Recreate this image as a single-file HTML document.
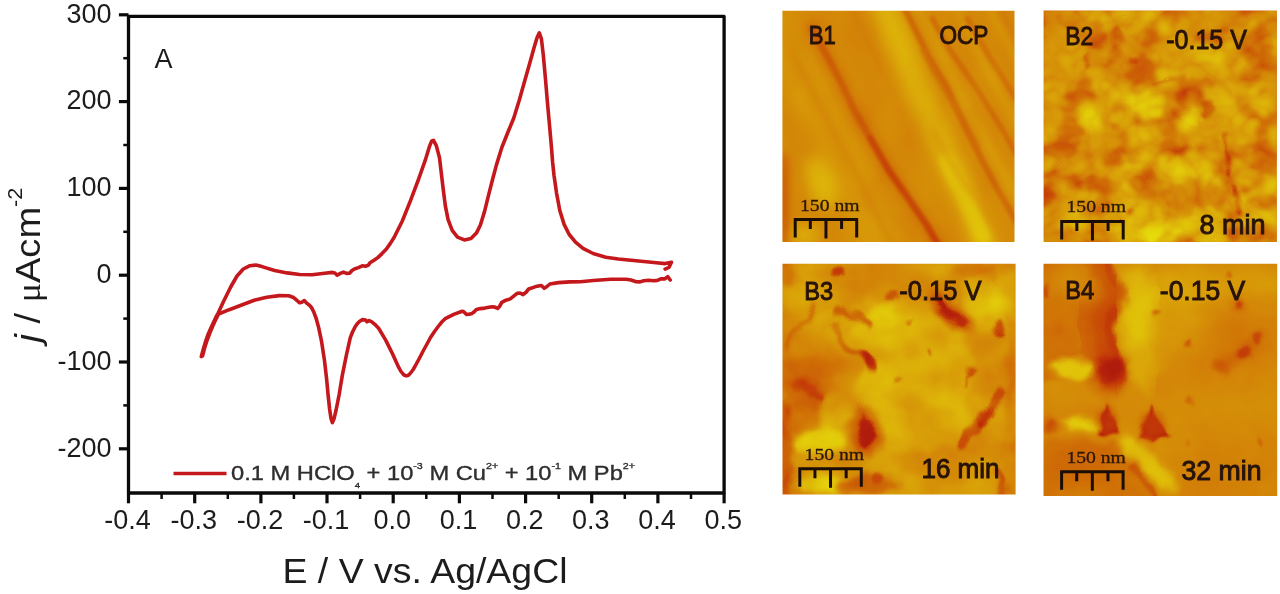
<!DOCTYPE html>
<html><head><meta charset="utf-8"><title>Figure</title>
<style>
html,body{margin:0;padding:0;background:#fff;}
body{width:1280px;height:594px;overflow:hidden;font-family:"Liberation Sans",sans-serif;}
svg{display:block;position:absolute;left:0;top:0;}
text{font-family:"Liberation Sans",sans-serif;fill:#1c1c1c;}
.serif{font-family:"Liberation Serif",serif;}
</style></head><body>
<svg width="1280" height="594" viewBox="0 0 1280 594">
<rect width="1280" height="594" fill="#ffffff"/>
<defs><filter id="soft" filterUnits="userSpaceOnUse" x="0" y="0" width="1280" height="594" color-interpolation-filters="sRGB"><feGaussianBlur stdDeviation="0.55"/></filter></defs>
<g filter="url(#soft)">
<rect width="1280" height="594" fill="#ffffff"/>

<g id="chart">
<rect x="128.5" y="16.3" width="595.6" height="476.7" fill="none" stroke="#0a0a0a" stroke-width="3.3" stroke-linejoin="round"/>
<line x1="118.9" y1="448.8" x2="128.5" y2="448.8" stroke="#0a0a0a" stroke-width="3.2"/>
<text x="111.6" y="456.5" font-size="27" text-anchor="end">-200</text>
<line x1="118.9" y1="362.0" x2="128.5" y2="362.0" stroke="#0a0a0a" stroke-width="3.2"/>
<text x="111.6" y="369.7" font-size="27" text-anchor="end">-100</text>
<line x1="118.9" y1="275.2" x2="128.5" y2="275.2" stroke="#0a0a0a" stroke-width="3.2"/>
<text x="111.6" y="282.9" font-size="27" text-anchor="end">0</text>
<line x1="118.9" y1="188.4" x2="128.5" y2="188.4" stroke="#0a0a0a" stroke-width="3.2"/>
<text x="111.6" y="196.1" font-size="27" text-anchor="end">100</text>
<line x1="118.9" y1="101.6" x2="128.5" y2="101.6" stroke="#0a0a0a" stroke-width="3.2"/>
<text x="111.6" y="109.3" font-size="27" text-anchor="end">200</text>
<line x1="118.9" y1="14.8" x2="128.5" y2="14.8" stroke="#0a0a0a" stroke-width="3.2"/>
<text x="111.6" y="22.5" font-size="27" text-anchor="end">300</text>
<line x1="123.3" y1="405.4" x2="128.5" y2="405.4" stroke="#0a0a0a" stroke-width="2.5"/>
<line x1="123.3" y1="318.6" x2="128.5" y2="318.6" stroke="#0a0a0a" stroke-width="2.5"/>
<line x1="123.3" y1="231.8" x2="128.5" y2="231.8" stroke="#0a0a0a" stroke-width="2.5"/>
<line x1="123.3" y1="145.0" x2="128.5" y2="145.0" stroke="#0a0a0a" stroke-width="2.5"/>
<line x1="123.3" y1="58.2" x2="128.5" y2="58.2" stroke="#0a0a0a" stroke-width="2.5"/>
<line x1="128.5" y1="493.0" x2="128.5" y2="503.3" stroke="#0a0a0a" stroke-width="3.2"/>
<text x="127.6" y="529.2" font-size="27" text-anchor="middle">-0.4</text>
<line x1="194.7" y1="493.0" x2="194.7" y2="503.3" stroke="#0a0a0a" stroke-width="3.2"/>
<text x="193.8" y="529.2" font-size="27" text-anchor="middle">-0.3</text>
<line x1="260.9" y1="493.0" x2="260.9" y2="503.3" stroke="#0a0a0a" stroke-width="3.2"/>
<text x="260.0" y="529.2" font-size="27" text-anchor="middle">-0.2</text>
<line x1="327.0" y1="493.0" x2="327.0" y2="503.3" stroke="#0a0a0a" stroke-width="3.2"/>
<text x="326.1" y="529.2" font-size="27" text-anchor="middle">-0.1</text>
<line x1="393.2" y1="493.0" x2="393.2" y2="503.3" stroke="#0a0a0a" stroke-width="3.2"/>
<text x="392.3" y="529.2" font-size="27" text-anchor="middle">0.0</text>
<line x1="459.4" y1="493.0" x2="459.4" y2="503.3" stroke="#0a0a0a" stroke-width="3.2"/>
<text x="458.5" y="529.2" font-size="27" text-anchor="middle">0.1</text>
<line x1="525.6" y1="493.0" x2="525.6" y2="503.3" stroke="#0a0a0a" stroke-width="3.2"/>
<text x="524.7" y="529.2" font-size="27" text-anchor="middle">0.2</text>
<line x1="591.7" y1="493.0" x2="591.7" y2="503.3" stroke="#0a0a0a" stroke-width="3.2"/>
<text x="590.8" y="529.2" font-size="27" text-anchor="middle">0.3</text>
<line x1="657.9" y1="493.0" x2="657.9" y2="503.3" stroke="#0a0a0a" stroke-width="3.2"/>
<text x="657.0" y="529.2" font-size="27" text-anchor="middle">0.4</text>
<line x1="724.1" y1="493.0" x2="724.1" y2="503.3" stroke="#0a0a0a" stroke-width="3.2"/>
<text x="723.2" y="529.2" font-size="27" text-anchor="middle">0.5</text>
<line x1="161.6" y1="493.0" x2="161.6" y2="499.0" stroke="#0a0a0a" stroke-width="2.5"/>
<line x1="227.8" y1="493.0" x2="227.8" y2="499.0" stroke="#0a0a0a" stroke-width="2.5"/>
<line x1="293.9" y1="493.0" x2="293.9" y2="499.0" stroke="#0a0a0a" stroke-width="2.5"/>
<line x1="360.1" y1="493.0" x2="360.1" y2="499.0" stroke="#0a0a0a" stroke-width="2.5"/>
<line x1="426.3" y1="493.0" x2="426.3" y2="499.0" stroke="#0a0a0a" stroke-width="2.5"/>
<line x1="492.5" y1="493.0" x2="492.5" y2="499.0" stroke="#0a0a0a" stroke-width="2.5"/>
<line x1="558.7" y1="493.0" x2="558.7" y2="499.0" stroke="#0a0a0a" stroke-width="2.5"/>
<line x1="624.8" y1="493.0" x2="624.8" y2="499.0" stroke="#0a0a0a" stroke-width="2.5"/>
<line x1="691.0" y1="493.0" x2="691.0" y2="499.0" stroke="#0a0a0a" stroke-width="2.5"/>
<text x="282.5" y="582.5" font-size="34.6" textLength="285" lengthAdjust="spacingAndGlyphs">E / V vs. Ag/AgCl</text>
<text transform="translate(40.3,342.5) rotate(-90)" font-size="35" textLength="155" lengthAdjust="spacingAndGlyphs"><tspan font-style="italic">j</tspan> / <tspan class="serif" font-size="33">μ</tspan>Acm<tspan font-size="20" dy="-18">-2</tspan></text>
<text x="154.5" y="68.3" font-size="27">A</text>
<path d="M201.3 356.6 L203.2 349.5 L205.3 342.4 L208.0 334.5 L210.0 330.0 L213.0 323.5 L215.9 317.2 L218.2 313.0 L223.5 301.5 L230.7 287.0 L237.0 276.0 L243.3 269.0 L249.5 265.8 L255.8 265.1 L262.0 266.6 L274.6 270.5 L287.1 272.9 L299.6 274.5 L312.2 274.8 L324.7 273.2 L332.5 272.4 L334.8 273.0 L337.2 275.2 L340.3 273.4 L343.5 272.1 L346.5 273.4 L349.7 273.2 L352.0 270.5 L354.4 269.0 L358.3 267.6 L362.3 265.8 L365.5 266.2 L368.5 265.1 L370.0 262.8 L374.0 260.3 L378.1 257.4 L382.0 253.6 L386.2 249.3 L390.2 243.6 L394.2 237.2 L402.3 221.0 L410.4 200.8 L418.5 179.3 L425.2 160.4 L429.3 146.9 L431.6 141.2 L433.5 140.3 L436.3 145.6 L439.5 157.7 L441.4 173.9 L443.3 190.0 L445.4 206.2 L448.1 219.7 L452.2 230.4 L457.5 237.2 L464.3 239.9 L471.0 238.5 L476.4 233.1 L480.4 225.0 L484.5 211.6 L488.5 195.4 L492.6 179.3 L496.6 164.4 L502.0 147.0 L508.0 132.0 L513.7 118.3 L519.1 100.8 L524.4 82.0 L529.8 63.1 L533.9 48.3 L537.1 37.5 L539.3 32.9 L541.4 38.9 L543.3 55.0 L545.5 79.3 L547.3 100.8 L549.5 125.1 L551.4 146.6 L552.6 162.0 L554.0 175.2 L556.5 192.8 L559.8 210.5 L564.1 224.4 L569.2 234.5 L575.5 242.1 L583.0 248.4 L593.1 253.5 L605.8 257.2 L618.4 259.0 L631.0 260.3 L643.7 261.5 L656.3 262.8 L665.1 263.6 L671.5 262.3 L668.9 267.4 L665.1 269.1" fill="none" stroke="#c4181c" stroke-width="3.6" stroke-linejoin="round" stroke-linecap="round"/>
<path d="M670.2 280.0 L667.7 276.7 L664.5 278.9 L661.3 278.7 L657.5 280.4 L653.8 280.7 L648.5 280.2 L643.7 280.7 L640.0 281.9 L636.1 281.7 L631.0 280.0 L626.0 279.2 L610.8 279.2 L593.1 280.5 L580.5 281.7 L569.7 281.9 L558.4 282.6 L549.9 284.0 L547.0 286.5 L544.2 288.3 L541.4 285.5 L535.7 286.6 L528.7 289.0 L525.8 292.5 L523.0 294.6 L520.0 293.0 L517.4 293.2 L510.3 298.9 L506.0 300.2 L501.8 302.4 L499.5 306.5 L497.6 308.4 L494.5 307.0 L491.9 306.7 L484.8 308.1 L480.5 308.6 L476.4 309.5 L474.0 312.0 L472.1 313.4 L469.2 314.2 L466.5 314.4 L464.2 312.2 L462.2 311.2 L453.7 314.4 L445.2 318.7 L441.5 322.3 L438.2 326.5 L434.5 331.5 L430.5 337.5 L427.0 344.0 L423.4 350.5 L419.8 357.5 L416.3 364.0 L413.2 369.5 L410.4 373.3 L408.4 375.2 L406.4 375.9 L404.6 375.3 L403.0 374.0 L400.7 371.0 L398.6 367.2 L392.7 354.2 L385.7 340.1 L378.6 328.3 L374.8 324.3 L371.5 321.7 L369.0 320.6 L367.0 321.8 L365.6 320.0 L362.5 319.6 L359.7 321.2 L357.2 323.8 L355.0 327.1 L352.5 332.0 L350.3 337.7 L346.6 354.2 L342.3 375.4 L339.2 394.3 L336.0 410.5 L334.0 418.8 L332.4 422.6 L331.0 418.5 L329.6 409.0 L328.0 394.0 L326.7 379.8 L324.4 359.9 L321.5 341.1 L318.5 326.9 L316.2 318.5 L313.9 312.3 L311.8 308.0 L309.4 305.2 L307.0 303.4 L304.3 300.6 L301.8 302.2 L299.6 302.8 L296.5 300.0 L293.0 297.2 L288.7 295.8 L279.3 295.6 L266.7 297.2 L254.2 300.3 L241.7 305.0 L229.2 309.7 L218.6 314.0 L216.2 318.6 L213.0 325.5 L210.0 332.5 L207.0 340.5 L204.6 348.0 L202.6 355.8" fill="none" stroke="#c4181c" stroke-width="3.6" stroke-linejoin="round" stroke-linecap="round"/>
<line x1="173.5" y1="473.5" x2="226.5" y2="473.5" stroke="#c4181c" stroke-width="3.4"/>
<text x="231" y="480.3" font-size="20" style="fill:#2e2e2e;stroke:#2e2e2e;stroke-width:0.35" textLength="404" lengthAdjust="spacingAndGlyphs">0.1 M HClO<tspan font-size="8" dy="8">4</tspan><tspan dy="-8"> + 10</tspan><tspan font-size="9" dy="-11">-3</tspan><tspan dy="11"> M Cu</tspan><tspan font-size="9" dy="-11">2+</tspan><tspan dy="11"> + 10</tspan><tspan font-size="9" dy="-11">-1</tspan><tspan dy="11"> M Pb</tspan><tspan font-size="9" dy="-11">2+</tspan></text>
</g>
<defs>
<filter id="bXS" x="-60%" y="-60%" width="220%" height="220%" color-interpolation-filters="sRGB"><feGaussianBlur stdDeviation="0.8"/></filter>
<filter id="bS" x="-60%" y="-60%" width="220%" height="220%" color-interpolation-filters="sRGB"><feGaussianBlur stdDeviation="1.6"/></filter>
<filter id="bM" x="-60%" y="-60%" width="220%" height="220%" color-interpolation-filters="sRGB"><feGaussianBlur stdDeviation="3.2"/></filter>
<filter id="bL" x="-60%" y="-60%" width="220%" height="220%" color-interpolation-filters="sRGB"><feGaussianBlur stdDeviation="7"/></filter>
<filter id="bXL" x="-60%" y="-60%" width="220%" height="220%" color-interpolation-filters="sRGB"><feGaussianBlur stdDeviation="13"/></filter>
<filter id="cm1" filterUnits="userSpaceOnUse" x="0" y="0" width="233" height="232" color-interpolation-filters="sRGB"><feTurbulence type="fractalNoise" baseFrequency="0.03 0.02" numOctaves="2" seed="4" result="t"/><feColorMatrix in="t" type="matrix" values="1 0 0 0 0  1 0 0 0 0  1 0 0 0 0  0 0 0 0 1" result="tg"/><feComposite in="SourceGraphic" in2="tg" operator="arithmetic" k1="0" k2="1" k3="0.1" k4="-0.0500" result="h"/><feGaussianBlur in="h" stdDeviation="0.7" result="h2"/><feComponentTransfer in="h2"><feFuncR type="table" tableValues="0.690 0.737 0.776 0.796 0.812 0.827 0.839 0.855 0.871 0.886 0.902"/><feFuncG type="table" tableValues="0.110 0.173 0.259 0.353 0.431 0.510 0.573 0.643 0.714 0.784 0.855"/><feFuncB type="table" tableValues="0.047 0.039 0.031 0.024 0.024 0.031 0.031 0.035 0.039 0.039 0.047"/><feFuncA type="linear" slope="0" intercept="1"/></feComponentTransfer></filter>
<filter id="cm2" filterUnits="userSpaceOnUse" x="0" y="0" width="233" height="232" color-interpolation-filters="sRGB"><feTurbulence type="fractalNoise" baseFrequency="0.05" numOctaves="2" seed="5" result="dn"/><feDisplacementMap in="SourceGraphic" in2="dn" scale="10" xChannelSelector="R" yChannelSelector="G" result="ds"/><feMerge result="src2"><feMergeNode in="SourceGraphic"/><feMergeNode in="ds"/></feMerge><feTurbulence type="fractalNoise" baseFrequency="0.026 0.030" numOctaves="3" seed="3" result="t"/><feColorMatrix in="t" type="matrix" values="1 0 0 0 0  1 0 0 0 0  1 0 0 0 0  0 0 0 0 1" result="tg"/><feComponentTransfer in="tg" result="tsig"><feFuncR type="table" tableValues="0 0 0 0.05 0.30 0.80 0.97 1 1 1 1"/><feFuncG type="table" tableValues="0 0 0 0.05 0.30 0.80 0.97 1 1 1 1"/><feFuncB type="table" tableValues="0 0 0 0.05 0.30 0.80 0.97 1 1 1 1"/></feComponentTransfer><feGaussianBlur in="tsig" stdDeviation="1.0" result="tb"/><feComposite in="src2" in2="tb" operator="arithmetic" k1="0" k2="1" k3="0.34" k4="-0.1972" result="h"/><feTurbulence type="turbulence" baseFrequency="0.032 0.036" numOctaves="2" seed="8" result="f"/><feColorMatrix in="f" type="matrix" values="1 0 0 0 0  1 0 0 0 0  1 0 0 0 0  0 0 0 0 1" result="fg"/><feComposite in="h" in2="fg" operator="arithmetic" k1="0" k2="1" k3="0.38" k4="-0.0836" result="hf"/><feGaussianBlur in="hf" stdDeviation="0.7" result="h2"/><feComponentTransfer in="h2"><feFuncR type="table" tableValues="0.690 0.737 0.776 0.796 0.812 0.827 0.839 0.855 0.871 0.886 0.902"/><feFuncG type="table" tableValues="0.110 0.173 0.259 0.353 0.431 0.510 0.573 0.643 0.714 0.784 0.855"/><feFuncB type="table" tableValues="0.047 0.039 0.031 0.024 0.024 0.031 0.031 0.035 0.039 0.039 0.047"/><feFuncA type="linear" slope="0" intercept="1"/></feComponentTransfer></filter>
<filter id="cm3" filterUnits="userSpaceOnUse" x="0" y="0" width="233" height="232" color-interpolation-filters="sRGB"><feTurbulence type="fractalNoise" baseFrequency="0.045" numOctaves="2" seed="7" result="dn"/><feDisplacementMap in="SourceGraphic" in2="dn" scale="14" xChannelSelector="R" yChannelSelector="G" result="ds"/><feMerge result="src2"><feMergeNode in="SourceGraphic"/><feMergeNode in="ds"/></feMerge><feTurbulence type="fractalNoise" baseFrequency="0.016 0.024" numOctaves="2" seed="11" result="t"/><feColorMatrix in="t" type="matrix" values="1 0 0 0 0  1 0 0 0 0  1 0 0 0 0  0 0 0 0 1" result="tg"/><feComponentTransfer in="tg" result="tsig"><feFuncR type="table" tableValues="0 0 0 0.02 0.12 0.5 0.88 0.98 1 1 1"/><feFuncG type="table" tableValues="0 0 0 0.02 0.12 0.5 0.88 0.98 1 1 1"/><feFuncB type="table" tableValues="0 0 0 0.02 0.12 0.5 0.88 0.98 1 1 1"/></feComponentTransfer><feGaussianBlur in="tsig" stdDeviation="1.5" result="tb"/><feComposite in="src2" in2="tb" operator="arithmetic" k1="0" k2="1" k3="0.16" k4="-0.0800" result="h"/><feTurbulence type="fractalNoise" baseFrequency="0.06" numOctaves="2" seed="4" result="f"/><feColorMatrix in="f" type="matrix" values="1 0 0 0 0  1 0 0 0 0  1 0 0 0 0  0 0 0 0 1" result="fg"/><feComposite in="h" in2="fg" operator="arithmetic" k1="0" k2="1" k3="0.1" k4="-0.0500" result="hf"/><feGaussianBlur in="hf" stdDeviation="0.7" result="h2"/><feComponentTransfer in="h2"><feFuncR type="table" tableValues="0.690 0.737 0.776 0.796 0.812 0.827 0.839 0.855 0.871 0.886 0.902"/><feFuncG type="table" tableValues="0.110 0.173 0.259 0.353 0.431 0.510 0.573 0.643 0.714 0.784 0.855"/><feFuncB type="table" tableValues="0.047 0.039 0.031 0.024 0.024 0.031 0.031 0.035 0.039 0.039 0.047"/><feFuncA type="linear" slope="0" intercept="1"/></feComponentTransfer></filter>
<filter id="cm4" filterUnits="userSpaceOnUse" x="0" y="0" width="234" height="232" color-interpolation-filters="sRGB"><feTurbulence type="fractalNoise" baseFrequency="0.045" numOctaves="2" seed="8" result="dn"/><feDisplacementMap in="SourceGraphic" in2="dn" scale="12" xChannelSelector="R" yChannelSelector="G" result="ds"/><feMerge result="src2"><feMergeNode in="SourceGraphic"/><feMergeNode in="ds"/></feMerge><feTurbulence type="fractalNoise" baseFrequency="0.012 0.016" numOctaves="2" seed="5" result="t"/><feColorMatrix in="t" type="matrix" values="1 0 0 0 0  1 0 0 0 0  1 0 0 0 0  0 0 0 0 1" result="tg"/><feComposite in="src2" in2="tg" operator="arithmetic" k1="0" k2="1" k3="0.18" k4="-0.0900" result="h"/><feTurbulence type="fractalNoise" baseFrequency="0.05" numOctaves="2" seed="6" result="f"/><feColorMatrix in="f" type="matrix" values="1 0 0 0 0  1 0 0 0 0  1 0 0 0 0  0 0 0 0 1" result="fg"/><feComposite in="h" in2="fg" operator="arithmetic" k1="0" k2="1" k3="0.06" k4="-0.0300" result="hf"/><feGaussianBlur in="hf" stdDeviation="0.7" result="h2"/><feComponentTransfer in="h2"><feFuncR type="table" tableValues="0.690 0.737 0.776 0.796 0.812 0.827 0.839 0.855 0.871 0.886 0.902"/><feFuncG type="table" tableValues="0.110 0.173 0.259 0.353 0.431 0.510 0.573 0.643 0.714 0.784 0.855"/><feFuncB type="table" tableValues="0.047 0.039 0.031 0.024 0.024 0.031 0.031 0.035 0.039 0.039 0.047"/><feFuncA type="linear" slope="0" intercept="1"/></feComponentTransfer></filter>
<clipPath id="cB1"><rect x="0" y="0" width="232.1" height="231.1"/></clipPath>
<clipPath id="cB2"><rect x="0" y="0" width="233.3" height="231.4"/></clipPath>
<clipPath id="cB3"><rect x="0" y="0" width="233.1" height="230.9"/></clipPath>
<clipPath id="cB4"><rect x="0" y="0" width="233.7" height="232.4"/></clipPath>
</defs>
<g transform="translate(782.4,10.8)" clip-path="url(#cB1)">
<g filter="url(#cm1)"><rect x="-20" y="-20" width="280" height="280" fill="rgb(138,138,138)"/>
<path d="M-5 20 L30 90 L60 150 L100 240" fill="none" stroke="rgb(158,158,158)" stroke-width="44" stroke-linecap="round" stroke-linejoin="round" opacity="0.9" filter="url(#bL)"/>
<path d="M98 -10 L125 50 L150 110 L175 165 L203 240" fill="none" stroke="rgb(199,199,199)" stroke-width="26" stroke-linecap="round" stroke-linejoin="round" opacity="0.9" filter="url(#bL)"/>
<path d="M165 150 L180 180 L200 225" fill="none" stroke="rgb(224,224,224)" stroke-width="16" stroke-linecap="round" stroke-linejoin="round" opacity="0.85" filter="url(#bM)"/>
<path d="M135 -5 L160 45 L185 95 L236 190" fill="none" stroke="rgb(168,168,168)" stroke-width="10" stroke-linecap="round" stroke-linejoin="round" opacity="0.7" filter="url(#bM)"/>
<path d="M175 0 L205 60 L236 115" fill="none" stroke="rgb(168,168,168)" stroke-width="10" stroke-linecap="round" stroke-linejoin="round" opacity="0.7" filter="url(#bM)"/>
<path d="M210 0 L236 50" fill="none" stroke="rgb(163,163,163)" stroke-width="10" stroke-linecap="round" stroke-linejoin="round" opacity="0.7" filter="url(#bM)"/>
<ellipse cx="40" cy="172" rx="15" ry="28" fill="rgb(204,204,204)" opacity="0.85" filter="url(#bL)" transform="rotate(-28 40 172)"/>
<ellipse cx="22" cy="224" rx="16" ry="12" fill="rgb(214,214,214)" opacity="0.75" filter="url(#bL)"/>
<ellipse cx="2" cy="190" rx="5" ry="50" fill="rgb(76,76,76)" opacity="0.8" filter="url(#bM)"/>
<ellipse cx="20" cy="22" rx="30" ry="20" fill="rgb(133,133,133)" opacity="0.6" filter="url(#bL)"/>
<path d="M30 18 L35 28 L46.9 49.1 L60 74.4 L71.7 99.1 L87.9 127.4 L106.1 159.1 L126 187.4 L144.2 214.1 L158 238" fill="none" stroke="rgb(107,107,107)" stroke-width="18" stroke-linecap="round" stroke-linejoin="round" opacity="0.6" filter="url(#bM)"/>
<path d="M30 18 L35 28 L46.9 49.1 L60 74.4 L71.7 99.1 L87.9 127.4 L106.1 159.1 L126 187.4 L144.2 214.1 L158 238" fill="none" stroke="rgb(76,76,76)" stroke-width="7" stroke-linecap="round" stroke-linejoin="round" opacity="0.85" filter="url(#bS)"/>
<path d="M87.9 127.4 L106.1 159.1 L126 187.4 L144.2 214.1 L158 238" fill="none" stroke="rgb(46,46,46)" stroke-width="6" stroke-linecap="round" stroke-linejoin="round" opacity="0.7" filter="url(#bS)"/>
<path d="M8 40 L40 100 L75 165 L112 238" fill="none" stroke="rgb(117,117,117)" stroke-width="8" stroke-linecap="round" stroke-linejoin="round" opacity="0.5" filter="url(#bM)"/>
<path d="M120 -6 L126.4 6 L145.9 45 L165.4 78.2 L183 116 L200 150 L215 178 L238 218" fill="none" stroke="rgb(87,87,87)" stroke-width="6.5" stroke-linecap="round" stroke-linejoin="round" opacity="0.8" filter="url(#bS)"/>
<path d="M140 40 L149.8 58.7 L175.2 101.7 L195 135" fill="none" stroke="rgb(102,102,102)" stroke-width="5" stroke-linecap="round" stroke-linejoin="round" opacity="0.6" filter="url(#bS)"/>
<path d="M150 8 L167.4 39 L194.7 78.2 L218.2 116 L238 150" fill="none" stroke="rgb(92,92,92)" stroke-width="6" stroke-linecap="round" stroke-linejoin="round" opacity="0.75" filter="url(#bS)"/>
<path d="M185 8 L206.4 45 L232.6 86 L240 98" fill="none" stroke="rgb(97,97,97)" stroke-width="6" stroke-linecap="round" stroke-linejoin="round" opacity="0.7" filter="url(#bS)"/>
<path d="M150 120 L175.5 164.2 L198.7 194.5 L222 234" fill="none" stroke="rgb(140,140,140)" stroke-width="5" stroke-linecap="round" stroke-linejoin="round" opacity="0.55" filter="url(#bM)"/>
<path d="M70 0 L95 50 L120 105" fill="none" stroke="rgb(117,117,117)" stroke-width="6" stroke-linecap="round" stroke-linejoin="round" opacity="0.5" filter="url(#bM)"/>
<path d="M215 -5 L240 40" fill="none" stroke="rgb(102,102,102)" stroke-width="7" stroke-linecap="round" stroke-linejoin="round" opacity="0.6" filter="url(#bM)"/></g>
<path d="M12.8 226.8 V208.8 H74.3 V226.8 M43.55 208.8 V227.8 M27.925 208.8 V218.3 M59.175 208.8 V218.3" fill="none" stroke="#1a0d06" stroke-width="3" stroke-linejoin="miter"/>
<text class="serif" x="17.6" y="199.8" font-size="17.6" style="fill:#2a1608;stroke:#2a1608;stroke-width:0.3" textLength="59.5" lengthAdjust="spacingAndGlyphs">150 nm</text>
<text x="26.3" y="33.6" font-size="26.5" style="fill:#27130a;stroke:#27130a;stroke-width:1.0" textLength="27" lengthAdjust="spacingAndGlyphs">B1</text>
<text x="157" y="33.6" font-size="26.5" style="fill:#27130a;stroke:#27130a;stroke-width:1.0" textLength="49" lengthAdjust="spacingAndGlyphs">OCP</text>
</g>
<g transform="translate(1043.6,10.6)" clip-path="url(#cB2)">
<g filter="url(#cm2)"><rect x="-20" y="-20" width="280" height="280" fill="rgb(135,135,135)"/>
<ellipse cx="122" cy="185" rx="62" ry="52" fill="rgb(158,158,158)" opacity="0.9" filter="url(#bXL)"/>
<ellipse cx="200" cy="96" rx="30" ry="24" fill="rgb(158,158,158)" opacity="0.8" filter="url(#bL)"/>
<ellipse cx="80" cy="12" rx="60" ry="12" fill="rgb(148,148,148)" opacity="0.6" filter="url(#bL)"/>
<ellipse cx="6" cy="190" rx="12" ry="48" fill="rgb(97,97,97)" opacity="0.7" filter="url(#bL)"/>
<ellipse cx="208" cy="8" rx="26" ry="10" fill="rgb(76,76,76)" opacity="0.6" filter="url(#bL)"/>
<ellipse cx="8" cy="8" rx="12" ry="10" fill="rgb(71,71,71)" opacity="0.7" filter="url(#bL)"/>
<ellipse cx="130" cy="84" rx="16" ry="10" fill="rgb(92,92,92)" opacity="0.7" filter="url(#bM)"/>
<ellipse cx="75" cy="45" rx="30" ry="28" fill="rgb(102,102,102)" opacity="0.55" filter="url(#bL)"/>
<ellipse cx="25" cy="150" rx="26" ry="30" fill="rgb(107,107,107)" opacity="0.5" filter="url(#bL)"/>
<ellipse cx="103.5" cy="96" rx="18" ry="14" fill="rgb(219,219,219)" opacity="0.8" filter="url(#bM)"/>
<ellipse cx="148" cy="106" rx="10" ry="12" fill="rgb(199,199,199)" opacity="0.8" filter="url(#bM)"/>
<ellipse cx="115.6" cy="223" rx="24" ry="11" fill="rgb(217,217,217)" opacity="0.75" filter="url(#bM)"/>
<ellipse cx="150" cy="170" rx="28" ry="20" fill="rgb(189,189,189)" opacity="0.6" filter="url(#bL)"/>
<ellipse cx="210" cy="200" rx="16" ry="20" fill="rgb(184,184,184)" opacity="0.55" filter="url(#bL)"/>
<ellipse cx="40" cy="110" rx="18" ry="14" fill="rgb(173,173,173)" opacity="0.6" filter="url(#bM)"/>
<ellipse cx="60" cy="210" rx="14" ry="12" fill="rgb(184,184,184)" opacity="0.5" filter="url(#bM)"/>
<ellipse cx="73.2" cy="27.4" rx="6" ry="10" fill="rgb(56,56,56)" opacity="0.85" filter="url(#bS)"/>
<ellipse cx="89.3" cy="50.6" rx="4.5" ry="5" fill="rgb(51,51,51)" opacity="0.85" filter="url(#bS)"/>
<ellipse cx="44.9" cy="51.6" rx="3" ry="8" fill="rgb(64,64,64)" opacity="0.9" filter="url(#bS)"/>
<path d="M109.5 73.9 L125 68 L141.9 65.8" fill="none" stroke="rgb(71,71,71)" stroke-width="3.5" stroke-linecap="round" stroke-linejoin="round" opacity="0.9" filter="url(#bS)"/>
<ellipse cx="164" cy="98" rx="5" ry="9" fill="rgb(51,51,51)" opacity="0.85" filter="url(#bS)" transform="rotate(15 164 98)"/>
<ellipse cx="137.8" cy="136.3" rx="6" ry="8" fill="rgb(64,64,64)" opacity="0.85" filter="url(#bM)"/>
<ellipse cx="105.5" cy="159.6" rx="6" ry="7" fill="rgb(51,51,51)" opacity="0.9" filter="url(#bM)"/>
<ellipse cx="28.7" cy="171.7" rx="12" ry="7" fill="rgb(46,46,46)" opacity="0.85" filter="url(#bM)" transform="rotate(20 28.7 171.7)"/>
<ellipse cx="70" cy="146" rx="12" ry="9" fill="rgb(51,51,51)" opacity="0.9" filter="url(#bM)" transform="rotate(-25 70 146)"/>
<path d="M182 124 L184 145 L187 165" fill="none" stroke="rgb(51,51,51)" stroke-width="4.5" stroke-linecap="round" stroke-linejoin="round" opacity="0.8" filter="url(#bS)"/>
<path d="M190 179 L193 190 L196 203" fill="none" stroke="rgb(46,46,46)" stroke-width="5.5" stroke-linecap="round" stroke-linejoin="round" opacity="0.85" filter="url(#bS)"/>
<ellipse cx="87.3" cy="201" rx="3" ry="3" fill="rgb(38,38,38)" opacity="0.8" filter="url(#bS)"/>
<ellipse cx="18" cy="226" rx="14" ry="8" fill="rgb(82,82,82)" opacity="0.7" filter="url(#bM)"/></g>
<path d="M18.1 228.8 V210.8 H79.6 V228.8 M48.85 210.8 V229.8 M33.225 210.8 V220.3 M64.475 210.8 V220.3" fill="none" stroke="#1a0d06" stroke-width="3" stroke-linejoin="miter"/>
<text class="serif" x="22.900000000000002" y="201.8" font-size="17.6" style="fill:#2a1608;stroke:#2a1608;stroke-width:0.3" textLength="59.5" lengthAdjust="spacingAndGlyphs">150 nm</text>
<text x="21.7" y="34.3" font-size="26.5" style="fill:#27130a;stroke:#27130a;stroke-width:1.0" textLength="28" lengthAdjust="spacingAndGlyphs">B2</text>
<text x="122.7" y="38.3" font-size="27.5" style="fill:#27130a;stroke:#27130a;stroke-width:1.0" textLength="80.5" lengthAdjust="spacingAndGlyphs">-0.15 V</text>
<text x="156" y="223" font-size="27.5" style="fill:#27130a;stroke:#27130a;stroke-width:1.0" textLength="66" lengthAdjust="spacingAndGlyphs">8 min</text>
</g>
<g transform="translate(782.5,263.7)" clip-path="url(#cB3)">
<g filter="url(#cm3)"><rect x="-20" y="-20" width="280" height="280" fill="rgb(153,153,153)"/>
<path d="M-5 60 L40 70 L60 100 L50 125 L40 160 L10 200 L-5 240Z" fill="rgb(112,112,112)" opacity="0.85" filter="url(#bL)"/>
<ellipse cx="22" cy="128" rx="22" ry="14" fill="rgb(87,87,87)" opacity="0.8" filter="url(#bM)" transform="rotate(25 22 128)"/>
<path d="M90 51 L59 74.5 L84 98 L70.6 129.5 L92 165 L102 184 L129.5 188 L188 180 L184 129.5 L196 98 L176.5 70.6 L157 43 L129.5 35 L102 43Z" fill="rgb(186,186,186)" opacity="0.95" filter="url(#bM)"/>
<ellipse cx="203" cy="38" rx="24" ry="20" fill="rgb(214,214,214)" opacity="0.9" filter="url(#bL)"/>
<ellipse cx="215" cy="140" rx="14" ry="50" fill="rgb(158,158,158)" opacity="0.6" filter="url(#bL)"/>
<ellipse cx="160" cy="212" rx="60" ry="16" fill="rgb(163,163,163)" opacity="0.7" filter="url(#bL)"/>
<ellipse cx="229" cy="120" rx="5" ry="70" fill="rgb(107,107,107)" opacity="0.7" filter="url(#bM)"/>
<ellipse cx="30" cy="40" rx="26" ry="16" fill="rgb(168,168,168)" opacity="0.8" filter="url(#bL)" transform="rotate(-15 30 40)"/>
<ellipse cx="53" cy="153" rx="17" ry="25" fill="rgb(178,178,178)" opacity="0.85" filter="url(#bM)"/>
<ellipse cx="38" cy="177" rx="26" ry="11" fill="rgb(224,224,224)" opacity="0.9" filter="url(#bM)"/>
<ellipse cx="38" cy="221" rx="26" ry="10" fill="rgb(235,235,235)" opacity="0.9" filter="url(#bM)"/>
<ellipse cx="101" cy="52" rx="16" ry="12" fill="rgb(219,219,219)" opacity="0.8" filter="url(#bM)"/>
<ellipse cx="130" cy="18" rx="36" ry="14" fill="rgb(158,158,158)" opacity="0.6" filter="url(#bL)"/>
<ellipse cx="191" cy="8" rx="22" ry="9" fill="rgb(97,97,97)" opacity="0.8" filter="url(#bM)"/>
<ellipse cx="5" cy="8" rx="9" ry="14" fill="rgb(76,76,76)" opacity="0.8" filter="url(#bM)"/>
<path d="M31.7 41.4 L24 55 L12.2 68.8 L4.4 84.4" fill="none" stroke="rgb(82,82,82)" stroke-width="5" stroke-linecap="round" stroke-linejoin="round" opacity="0.7" filter="url(#bS)"/>
<path d="M53.2 45.3 L65 49.2 L78.6 57 L86 62" fill="none" stroke="rgb(56,56,56)" stroke-width="6" stroke-linecap="round" stroke-linejoin="round" opacity="0.85" filter="url(#bS)"/>
<path d="M53.2 59 L57 78.5 L65 86.3 L82.5 92.2 L88.4 105.9" fill="none" stroke="rgb(76,76,76)" stroke-width="6" stroke-linecap="round" stroke-linejoin="round" opacity="0.7" filter="url(#bS)"/>
<ellipse cx="85" cy="98" rx="5.5" ry="10" fill="rgb(20,20,20)" opacity="0.9" filter="url(#bS)" transform="rotate(-25 85 98)"/>
<ellipse cx="56" cy="9" rx="5" ry="5.5" fill="rgb(38,38,38)" opacity="0.85" filter="url(#bS)"/>
<ellipse cx="109" cy="32" rx="7" ry="4" fill="rgb(51,51,51)" opacity="0.8" filter="url(#bS)" transform="rotate(-20 109 32)"/>
<path d="M153 34 L166 46 L182 60" fill="none" stroke="rgb(66,66,66)" stroke-width="15" stroke-linecap="round" stroke-linejoin="round" opacity="0.85" filter="url(#bM)"/>
<path d="M156 38 L168 48 L180 58" fill="none" stroke="rgb(10,10,10)" stroke-width="7" stroke-linecap="round" stroke-linejoin="round" opacity="0.9" filter="url(#bS)"/>
<ellipse cx="217" cy="66" rx="5" ry="7.5" fill="rgb(38,38,38)" opacity="0.9" filter="url(#bS)"/>
<ellipse cx="126" cy="57" rx="2" ry="4" fill="rgb(76,76,76)" opacity="0.7" filter="url(#bXS)"/>
<ellipse cx="145.8" cy="88.3" rx="2" ry="5" fill="rgb(71,71,71)" opacity="0.7" filter="url(#bXS)"/>
<ellipse cx="115" cy="118" rx="2" ry="4" fill="rgb(76,76,76)" opacity="0.7" filter="url(#bXS)"/>
<ellipse cx="189" cy="111" rx="4" ry="7" fill="rgb(46,46,46)" opacity="0.8" filter="url(#bS)" transform="rotate(15 189 111)"/>
<path d="M12 121 L25 127 L37.6 135" fill="none" stroke="rgb(56,56,56)" stroke-width="8" stroke-linecap="round" stroke-linejoin="round" opacity="0.8" filter="url(#bS)"/>
<ellipse cx="3" cy="185" rx="7" ry="50" fill="rgb(56,56,56)" opacity="0.85" filter="url(#bM)"/>
<ellipse cx="82.5" cy="168" rx="15" ry="24" fill="rgb(76,76,76)" opacity="0.75" filter="url(#bM)" transform="rotate(-8 82.5 168)"/>
<ellipse cx="83" cy="168" rx="7.5" ry="16" fill="rgb(8,8,8)" opacity="0.95" filter="url(#bS)" transform="rotate(-8 83 168)"/>
<ellipse cx="86" cy="222" rx="32" ry="10" fill="rgb(71,71,71)" opacity="0.85" filter="url(#bM)"/>
<ellipse cx="94.5" cy="216" rx="7" ry="5" fill="rgb(31,31,31)" opacity="0.8" filter="url(#bS)"/>
<path d="M218 127 L210 142.7 L198.5 158.4 L183 174 L179 181.8" fill="none" stroke="rgb(61,61,61)" stroke-width="10" stroke-linecap="round" stroke-linejoin="round" opacity="0.8" filter="url(#bS)"/>
<path d="M207 147 L196 162" fill="none" stroke="rgb(10,10,10)" stroke-width="6" stroke-linecap="round" stroke-linejoin="round" opacity="0.9" filter="url(#bS)"/>
<path d="M186.8 115 L181 123" fill="none" stroke="rgb(64,64,64)" stroke-width="3" stroke-linecap="round" stroke-linejoin="round" opacity="0.7" filter="url(#bXS)"/>
<path d="M214 209 L222 232" fill="none" stroke="rgb(64,64,64)" stroke-width="6" stroke-linecap="round" stroke-linejoin="round" opacity="0.8" filter="url(#bS)"/>
<ellipse cx="226" cy="226" rx="8" ry="8" fill="rgb(76,76,76)" opacity="0.6" filter="url(#bM)"/></g>
<path d="M17.3 223.1 V205.1 H78.8 V223.1 M48.05 205.1 V224.1 M32.425 205.1 V214.6 M63.675 205.1 V214.6" fill="none" stroke="#1a0d06" stroke-width="3" stroke-linejoin="miter"/>
<text class="serif" x="22.1" y="196.1" font-size="17.6" style="fill:#2a1608;stroke:#2a1608;stroke-width:0.3" textLength="59.5" lengthAdjust="spacingAndGlyphs">150 nm</text>
<text x="21.7" y="36.5" font-size="26.5" style="fill:#27130a;stroke:#27130a;stroke-width:1.0" textLength="29" lengthAdjust="spacingAndGlyphs">B3</text>
<text x="116.7" y="36.6" font-size="27.5" style="fill:#27130a;stroke:#27130a;stroke-width:1.0" textLength="82.5" lengthAdjust="spacingAndGlyphs">-0.15 V</text>
<text x="139" y="214.4" font-size="27.5" style="fill:#27130a;stroke:#27130a;stroke-width:1.0" textLength="78" lengthAdjust="spacingAndGlyphs">16 min</text>
</g>
<g transform="translate(1043.5,263.7)" clip-path="url(#cB4)">
<g filter="url(#cm4)"><rect x="-20" y="-20" width="280" height="280" fill="rgb(138,138,138)"/>
<ellipse cx="180" cy="72" rx="62" ry="24" fill="rgb(120,120,120)" opacity="0.85" filter="url(#bXL)"/>
<ellipse cx="165" cy="18" rx="80" ry="18" fill="rgb(163,163,163)" opacity="0.8" filter="url(#bL)"/>
<ellipse cx="185" cy="185" rx="55" ry="45" fill="rgb(128,128,128)" opacity="0.7" filter="url(#bXL)"/>
<path d="M-5 124 L240 124" fill="none" stroke="rgb(173,173,173)" stroke-width="12" stroke-linecap="round" stroke-linejoin="round" opacity="0.75" filter="url(#bM)"/>
<ellipse cx="125" cy="60" rx="40" ry="50" fill="rgb(178,178,178)" opacity="0.6" filter="url(#bXL)"/>
<path d="M-5 -5 L66.8 -4 L72.7 12.1 L86.3 29.7 L84.4 41.4 L70.7 49.2 L68.8 64.9 L74.6 82.4 L78.5 98 L84.4 118 L-5 118Z" fill="rgb(107,107,107)" opacity="0.97" filter="url(#bS)"/>
<path d="M64.3 29.7 L62.400000000000006 41.4 L48.7 49.2 L46.8 64.9 L52.599999999999994 82.4 L56.5 98 L62.400000000000006 118" fill="none" stroke="rgb(76,76,76)" stroke-width="34" stroke-linecap="round" stroke-linejoin="round" opacity="0.7" filter="url(#bL)"/>
<path d="M54.8 -4 L60.7 12.1 L74.3 29.7 L72.4 41.4 L58.7 49.2 L56.8 64.9 L62.599999999999994 82.4 L66.5 98 L72.4 118" fill="none" stroke="rgb(56,56,56)" stroke-width="22" stroke-linecap="round" stroke-linejoin="round" opacity="0.8" filter="url(#bM)"/>
<path d="M61.8 -4 L67.7 12.1 L81.3 29.7 L79.4 41.4 L65.7 49.2 L63.8 64.9 L69.6 82.4 L73.5 98 L79.4 118" fill="none" stroke="rgb(38,38,38)" stroke-width="8" stroke-linecap="round" stroke-linejoin="round" opacity="0.65" filter="url(#bS)"/>
<path d="M88.7 12.1 L102.3 29.7 L100.4 41.4 L86.7 49.2 L84.8 64.9 L90.6 82.4 L94.5 98 L100.4 118" fill="none" stroke="rgb(219,219,219)" stroke-width="24" stroke-linecap="round" stroke-linejoin="round" opacity="0.6" filter="url(#bL)"/>
<ellipse cx="25" cy="20" rx="22" ry="12" fill="rgb(140,140,140)" opacity="0.6" filter="url(#bL)"/>
<path d="M-5 175 L85 178 L110 219 L116 240 L-5 240Z" fill="rgb(107,107,107)" opacity="0.95" filter="url(#bM)"/>
<ellipse cx="40" cy="200" rx="30" ry="20" fill="rgb(102,102,102)" opacity="0.5" filter="url(#bL)"/>
<ellipse cx="60" cy="150" rx="40" ry="14" fill="rgb(128,128,128)" opacity="0.6" filter="url(#bL)"/>
<ellipse cx="27" cy="133" rx="28" ry="10" fill="rgb(158,158,158)" opacity="0.8" filter="url(#bL)"/>
<ellipse cx="97" cy="55" rx="13" ry="30" fill="rgb(224,224,224)" opacity="0.85" filter="url(#bL)"/>
<ellipse cx="102" cy="98" rx="14" ry="16" fill="rgb(199,199,199)" opacity="0.7" filter="url(#bL)"/>
<ellipse cx="30" cy="106" rx="22" ry="10" fill="rgb(237,237,237)" opacity="0.92" filter="url(#bM)"/>
<ellipse cx="35.8" cy="161" rx="18" ry="6" fill="rgb(247,247,247)" opacity="0.95" filter="url(#bM)"/>
<path d="M85.3 181 L104 198 L125.7 219.4" fill="none" stroke="rgb(224,224,224)" stroke-width="17" stroke-linecap="round" stroke-linejoin="round" opacity="0.85" filter="url(#bM)"/>
<ellipse cx="68" cy="106" rx="15" ry="13" fill="rgb(8,8,8)" opacity="0.95" filter="url(#bM)"/>
<ellipse cx="194.4" cy="41.9" rx="4" ry="4" fill="rgb(13,13,13)" opacity="0.9" filter="url(#bS)"/>
<ellipse cx="194" cy="42" rx="9" ry="8" fill="rgb(82,82,82)" opacity="0.5" filter="url(#bM)"/>
<ellipse cx="214.6" cy="75.2" rx="5" ry="6" fill="rgb(31,31,31)" opacity="0.85" filter="url(#bS)"/>
<ellipse cx="200.4" cy="89.3" rx="6" ry="6" fill="rgb(20,20,20)" opacity="0.85" filter="url(#bS)"/>
<ellipse cx="180.2" cy="101.5" rx="7" ry="7" fill="rgb(56,56,56)" opacity="0.6" filter="url(#bM)"/>
<path d="M216 73 L200 90 L180 102" fill="none" stroke="rgb(84,84,84)" stroke-width="14" stroke-linecap="round" stroke-linejoin="round" opacity="0.5" filter="url(#bM)"/>
<ellipse cx="112.6" cy="49.9" rx="3" ry="3.5" fill="rgb(76,76,76)" opacity="0.8" filter="url(#bS)"/>
<ellipse cx="145.9" cy="78.2" rx="3.5" ry="4" fill="rgb(71,71,71)" opacity="0.8" filter="url(#bS)"/>
<ellipse cx="184.3" cy="12.6" rx="4" ry="4" fill="rgb(84,84,84)" opacity="0.7" filter="url(#bS)"/>
<ellipse cx="2.5" cy="28.7" rx="3" ry="7" fill="rgb(38,38,38)" opacity="0.8" filter="url(#bS)"/>
<ellipse cx="16.6" cy="67" rx="6" ry="6" fill="rgb(76,76,76)" opacity="0.4" filter="url(#bM)"/>
<path d="M63 138 L51 169 L76 170Z" fill="rgb(0,0,0)" opacity="1" filter="url(#bS)"/>
<ellipse cx="63" cy="157" rx="11" ry="14" fill="rgb(51,51,51)" opacity="0.55" filter="url(#bM)"/>
<path d="M107 140 L93 169 L110 178 L127 174Z" fill="rgb(0,0,0)" opacity="1" filter="url(#bS)"/>
<ellipse cx="110" cy="161" rx="16" ry="16" fill="rgb(51,51,51)" opacity="0.55" filter="url(#bM)"/>
<path d="M87.3 203 L104 220 L112 233" fill="none" stroke="rgb(51,51,51)" stroke-width="6" stroke-linecap="round" stroke-linejoin="round" opacity="0.7" filter="url(#bS)"/>
<ellipse cx="147.9" cy="138.6" rx="3" ry="5" fill="rgb(76,76,76)" opacity="0.7" filter="url(#bS)"/>
<ellipse cx="214.6" cy="179" rx="2.5" ry="5" fill="rgb(71,71,71)" opacity="0.7" filter="url(#bS)"/>
<ellipse cx="141.9" cy="177" rx="3" ry="3" fill="rgb(84,84,84)" opacity="0.6" filter="url(#bS)"/>
<ellipse cx="6.5" cy="161" rx="6" ry="10" fill="rgb(41,41,41)" opacity="0.8" filter="url(#bM)"/></g>
<path d="M18.1 226.1 V208.1 H79.6 V226.1 M48.85 208.1 V227.1 M33.225 208.1 V217.6 M64.475 208.1 V217.6" fill="none" stroke="#1a0d06" stroke-width="3" stroke-linejoin="miter"/>
<text class="serif" x="22.900000000000002" y="199.1" font-size="17.6" style="fill:#2a1608;stroke:#2a1608;stroke-width:0.3" textLength="59.5" lengthAdjust="spacingAndGlyphs">150 nm</text>
<text x="21.7" y="35.6" font-size="26.5" style="fill:#27130a;stroke:#27130a;stroke-width:1.0" textLength="29" lengthAdjust="spacingAndGlyphs">B4</text>
<text x="116.3" y="36.6" font-size="27.5" style="fill:#27130a;stroke:#27130a;stroke-width:1.0" textLength="85.5" lengthAdjust="spacingAndGlyphs">-0.15 V</text>
<text x="138" y="216.6" font-size="27.5" style="fill:#27130a;stroke:#27130a;stroke-width:1.0" textLength="80" lengthAdjust="spacingAndGlyphs">32 min</text>
</g>
</g></svg></body></html>
